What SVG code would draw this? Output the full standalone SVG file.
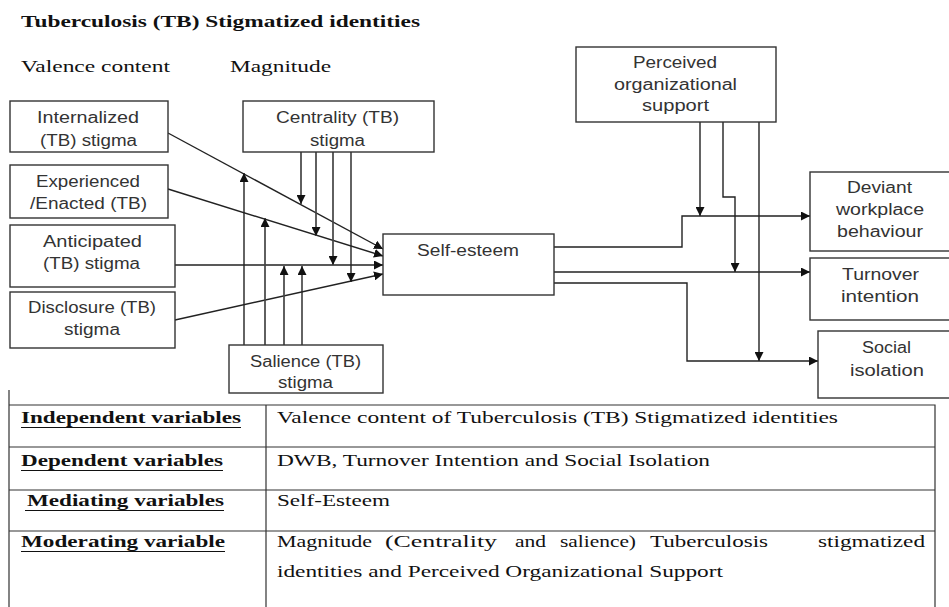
<svg xmlns="http://www.w3.org/2000/svg" width="949" height="607" viewBox="0 0 949 607">
<defs>
<marker id="ah" markerUnits="userSpaceOnUse" markerWidth="10" markerHeight="9" refX="9" refY="4.5" orient="auto">
<path d="M0,0 L9,4.5 L0,9 z" fill="#111"/>
</marker>
<style>
.box{fill:#fff;stroke:#333;stroke-width:1.4}
.t{font-family:"Liberation Sans","Open Sans",sans-serif;font-size:16px;fill:#333;text-anchor:start}
.h{font-family:"Liberation Serif","Times New Roman",serif;fill:#111}
.c{fill:none;stroke:#222;stroke-width:1.4}
.g{fill:none;stroke:#444;stroke-width:1.7}
.a{marker-end:url(#ah)}
.tb{fill:none;stroke:#333;stroke-width:1.2}
.u{stroke:#111;stroke-width:1.2}
</style>
</defs>
<rect width="949" height="607" fill="#fff"/>

<text class="h" x="21" y="27" font-size="17" font-weight="bold" textLength="399" lengthAdjust="spacingAndGlyphs">Tuberculosis (TB) Stigmatized identities</text>
<text class="h" x="21" y="72" font-size="16" textLength="149" lengthAdjust="spacingAndGlyphs">Valence content</text>
<text class="h" x="230" y="72" font-size="16" textLength="101" lengthAdjust="spacingAndGlyphs">Magnitude</text>

<g id="connectors">
<path class="c a" d="M168,133 L383,249"/>
<path class="c a" d="M168,189 L383,256"/>
<path class="c a" d="M175,265 L383,265"/>
<path class="c a" d="M175,320 L383,274"/>
<path class="g a" d="M301,152 L301,204"/>
<path class="g a" d="M316,152 L316,236"/>
<path class="g a" d="M333,152 L333,265"/>
<path class="c a" d="M351,152 L351,282"/>
<path class="c a" d="M244,345 L244,173"/>
<path class="g a" d="M265,345 L265,218"/>
<path class="g a" d="M284,345 L284,266"/>
<path class="c a" d="M302,345 L302,266"/>
<path class="c a" d="M700,122 L700,216"/>
<path class="c a" d="M723,122 L723,197 L735,197 L735,272"/>
<path class="c a" d="M759,122 L759,361"/>
<path class="c a" d="M554,247 L682,247 L682,216 L810,216"/>
<path class="c a" d="M554,272 L810,272"/>
<path class="c a" d="M554,283 L687,283 L687,361 L818,361"/>
</g>

<g id="internalized">
<rect class="box" x="10" y="101" width="158" height="51"/>
<text class="t" x="37" y="123" textLength="102" lengthAdjust="spacingAndGlyphs">Internalized</text>
<text class="t" x="40" y="146" textLength="97" lengthAdjust="spacingAndGlyphs">(TB) stigma</text>
</g>
<g id="experienced">
<rect class="box" x="10" y="165" width="158" height="53"/>
<text class="t" x="36" y="187" textLength="104" lengthAdjust="spacingAndGlyphs">Experienced</text>
<text class="t" x="30" y="209" textLength="117" lengthAdjust="spacingAndGlyphs">/Enacted (TB)</text>
</g>
<g id="anticipated">
<rect class="box" x="10" y="225" width="165" height="62"/>
<text class="t" x="43" y="247" textLength="99" lengthAdjust="spacingAndGlyphs">Anticipated</text>
<text class="t" x="43" y="269" textLength="97" lengthAdjust="spacingAndGlyphs">(TB) stigma</text>
</g>
<g id="disclosure">
<rect class="box" x="10" y="292" width="165" height="56"/>
<text class="t" x="28" y="313" textLength="128" lengthAdjust="spacingAndGlyphs">Disclosure (TB)</text>
<text class="t" x="64" y="335" textLength="56" lengthAdjust="spacingAndGlyphs">stigma</text>
</g>
<g id="centrality">
<rect class="box" x="243" y="101" width="191" height="51"/>
<text class="t" x="276" y="123" textLength="123" lengthAdjust="spacingAndGlyphs">Centrality (TB)</text>
<text class="t" x="310" y="146" textLength="55" lengthAdjust="spacingAndGlyphs">stigma</text>
</g>
<g id="salience">
<rect class="box" x="229" y="345" width="154" height="48"/>
<text class="t" x="250" y="367" textLength="111" lengthAdjust="spacingAndGlyphs">Salience (TB)</text>
<text class="t" x="278" y="388" textLength="55" lengthAdjust="spacingAndGlyphs">stigma</text>
</g>
<g id="self-esteem">
<rect class="box" x="383" y="234" width="171" height="61"/>
<text class="t" x="417" y="256" textLength="102" lengthAdjust="spacingAndGlyphs">Self-esteem</text>
</g>
<g id="pos">
<rect class="box" x="576" y="47" width="200" height="75"/>
<text class="t" x="633" y="68" textLength="84" lengthAdjust="spacingAndGlyphs">Perceived</text>
<text class="t" x="614" y="90" textLength="123" lengthAdjust="spacingAndGlyphs">organizational</text>
<text class="t" x="642" y="111" textLength="67" lengthAdjust="spacingAndGlyphs">support</text>
</g>
<g id="deviant">
<rect class="box" x="810" y="172" width="145" height="79"/>
<text class="t" x="847" y="193" textLength="65" lengthAdjust="spacingAndGlyphs">Deviant</text>
<text class="t" x="836" y="215" textLength="88" lengthAdjust="spacingAndGlyphs">workplace</text>
<text class="t" x="837" y="237" textLength="86" lengthAdjust="spacingAndGlyphs">behaviour</text>
</g>
<g id="turnover">
<rect class="box" x="810" y="258" width="145" height="62"/>
<text class="t" x="842" y="280" textLength="77" lengthAdjust="spacingAndGlyphs">Turnover</text>
<text class="t" x="841" y="302" textLength="78" lengthAdjust="spacingAndGlyphs">intention</text>
</g>
<g id="social-isolation">
<rect class="box" x="818" y="331" width="137" height="67"/>
<text class="t" x="862" y="353" textLength="49" lengthAdjust="spacingAndGlyphs">Social</text>
<text class="t" x="850" y="376" textLength="74" lengthAdjust="spacingAndGlyphs">isolation</text>
</g>

<g id="table">
<path class="tb" d="M9,390 L9,610 M9,405 L935,405 L935,610 M9,447 L935,447 M9,490 L935,490 M9,531 L935,531 M266,405 L266,610"/>
<g class="h" font-size="16" font-weight="bold">
<text x="21" y="423" textLength="220" lengthAdjust="spacingAndGlyphs">Independent variables</text>
<text x="21" y="466" textLength="202" lengthAdjust="spacingAndGlyphs">Dependent variables</text>
<text x="27" y="506" textLength="197" lengthAdjust="spacingAndGlyphs">Mediating variables</text>
<text x="21" y="547" textLength="204" lengthAdjust="spacingAndGlyphs">Moderating variable</text>
</g>
<path class="u" d="M21,427.5 L241,427.5 M21,470.5 L223,470.5 M25,510.5 L224,510.5 M21,551.5 L225,551.5"/>
<g class="h" font-size="16">
<text x="277" y="423" textLength="561" lengthAdjust="spacingAndGlyphs">Valence content of Tuberculosis (TB) Stigmatized identities</text>
<text x="277" y="466" textLength="433" lengthAdjust="spacingAndGlyphs">DWB, Turnover Intention and Social Isolation</text>
<text x="277" y="506" textLength="113" lengthAdjust="spacingAndGlyphs">Self-Esteem</text>
<text x="277" y="547" textLength="95" lengthAdjust="spacingAndGlyphs">Magnitude</text>
<text x="385" y="547" textLength="112" lengthAdjust="spacingAndGlyphs">(Centrality</text>
<text x="515" y="547" textLength="31" lengthAdjust="spacingAndGlyphs">and</text>
<text x="560" y="547" textLength="76" lengthAdjust="spacingAndGlyphs">salience)</text>
<text x="650" y="547" textLength="118" lengthAdjust="spacingAndGlyphs">Tuberculosis</text>
<text x="818" y="547" textLength="107" lengthAdjust="spacingAndGlyphs">stigmatized</text>
<text x="277" y="577" textLength="446" lengthAdjust="spacingAndGlyphs">identities and Perceived Organizational Support</text>
</g>
</g>
</svg>
